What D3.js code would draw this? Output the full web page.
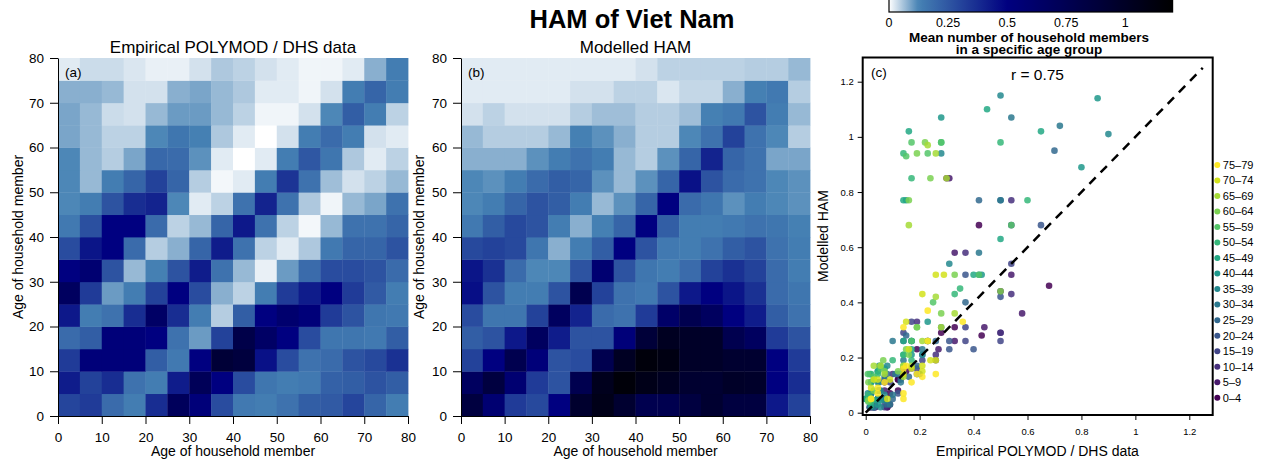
<!DOCTYPE html>
<html>
<head>
<meta charset="utf-8">
<script src="https://cdn.jsdelivr.net/npm/d3@7"></script>
<style>
  html, body { margin: 0; padding: 0; background: #ffffff; }
  svg { display: block; }
</style>
</head>
<body>
<svg id="chart" width="1265" height="465"></svg>
<script>
// ---------------- DATA ----------------
const ageGroups = ["0–4","5–9","10–14","15–19","20–24","25–29","30–34","35–39",
                   "40–44","45–49","50–54","55–59","60–64","65–69","70–74","75–79"];
const ageTicks = [0, 10, 20, 30, 40, 50, 60, 70, 80];
const scatterTicks = [0, 0.2, 0.4, 0.6, 0.8, 1, 1.2];
const colorbarTicks = [0, 0.25, 0.5, 0.75, 1];
const mainTitle = "HAM of Viet Nam";
const panelTitles = ["Empirical POLYMOD / DHS data", "Modelled HAM"];
const corrLabel = "r = 0.75";

// rows: age of household member (y) 0–4 ... 75–79 ; columns: age (x) 0–4 ... 75–79
const empirical = [
  [0.30,0.33,0.19,0.14,0.37,0.70,0.54,0.28,0.15,0.14,0.17,0.23,0.24,0.30,0.21,0.14],
  [0.42,0.31,0.37,0.17,0.14,0.42,0.72,0.50,0.28,0.16,0.14,0.15,0.22,0.23,0.26,0.23],
  [0.33,0.54,0.54,0.54,0.23,0.15,0.50,0.90,0.86,0.45,0.28,0.17,0.19,0.26,0.29,0.36],
  [0.19,0.23,0.54,0.54,0.50,0.17,0.10,0.31,0.80,0.65,0.50,0.28,0.16,0.16,0.15,0.23],
  [0.43,0.14,0.17,0.37,0.65,0.37,0.14,0.05,0.23,0.50,0.60,0.54,0.33,0.26,0.16,0.15],
  [0.68,0.33,0.10,0.14,0.31,0.50,0.28,0.08,0.045,0.14,0.33,0.42,0.50,0.33,0.24,0.14],
  [0.50,0.58,0.26,0.07,0.13,0.26,0.42,0.17,0.07,0.015,0.10,0.19,0.28,0.28,0.26,0.19],
  [0.28,0.44,0.50,0.19,0.05,0.08,0.21,0.42,0.17,0.045,0.02,0.055,0.15,0.21,0.21,0.26],
  [0.15,0.27,0.50,0.50,0.19,0.045,0.07,0.21,0.43,0.17,0.045,0.008,0.07,0.17,0.17,0.21],
  [0.12,0.14,0.26,0.37,0.40,0.12,0.02,0.045,0.17,0.40,0.17,0.055,0.01,0.07,0.09,0.17],
  [0.12,0.07,0.14,0.21,0.31,0.21,0.05,0.008,0.02,0.14,0.35,0.17,0.065,0.03,0.045,0.07],
  [0.12,0.07,0.05,0.09,0.20,0.19,0.11,0.02,0.0,0.02,0.14,0.25,0.16,0.055,0.02,0.045],
  [0.09,0.07,0.045,0.045,0.12,0.16,0.13,0.055,0.02,0.0,0.03,0.14,0.19,0.14,0.03,0.02],
  [0.09,0.07,0.035,0.03,0.07,0.10,0.10,0.07,0.045,0.01,0.01,0.03,0.12,0.23,0.14,0.045],
  [0.08,0.08,0.07,0.03,0.03,0.08,0.09,0.07,0.055,0.02,0.02,0.01,0.03,0.14,0.21,0.14],
  [0.02,0.035,0.035,0.025,0.015,0.015,0.03,0.055,0.045,0.03,0.02,0.01,0.01,0.02,0.08,0.14]
];

const modelled = [
  [0.85,0.58,0.33,0.29,0.50,0.95,1.07,0.94,0.77,0.77,0.85,0.94,0.85,0.85,0.43,0.31],
  [0.68,0.85,0.58,0.33,0.26,0.77,1.04,1.15,1.07,1.02,0.94,0.93,0.98,0.97,0.50,0.37],
  [0.31,0.50,0.77,0.54,0.26,0.28,0.77,1.01,1.14,1.10,0.98,0.98,0.94,0.94,0.50,0.33],
  [0.23,0.26,0.43,0.68,0.42,0.26,0.26,0.54,0.89,1.02,0.98,0.98,0.77,0.68,0.33,0.26],
  [0.28,0.16,0.16,0.31,0.68,0.40,0.19,0.17,0.33,0.63,0.77,0.68,0.50,0.42,0.23,0.17],
  [0.46,0.26,0.14,0.14,0.26,0.77,0.31,0.17,0.15,0.26,0.43,0.50,0.44,0.36,0.19,0.16],
  [0.44,0.36,0.19,0.12,0.12,0.26,0.58,0.26,0.16,0.14,0.19,0.31,0.36,0.31,0.19,0.14],
  [0.29,0.31,0.29,0.16,0.08,0.14,0.23,0.50,0.26,0.15,0.14,0.17,0.23,0.26,0.17,0.14],
  [0.15,0.23,0.29,0.26,0.14,0.08,0.13,0.21,0.50,0.23,0.14,0.14,0.15,0.17,0.16,0.13],
  [0.12,0.14,0.21,0.26,0.23,0.14,0.07,0.11,0.21,0.50,0.19,0.16,0.11,0.14,0.12,0.11],
  [0.12,0.11,0.14,0.19,0.23,0.21,0.11,0.07,0.11,0.21,0.45,0.26,0.19,0.17,0.12,0.11],
  [0.08,0.08,0.08,0.11,0.14,0.17,0.14,0.07,0.05,0.11,0.21,0.40,0.21,0.17,0.09,0.09],
  [0.07,0.05,0.05,0.05,0.07,0.13,0.11,0.08,0.05,0.05,0.12,0.17,0.31,0.17,0.12,0.05],
  [0.03,0.045,0.03,0.03,0.03,0.05,0.065,0.065,0.05,0.05,0.065,0.13,0.15,0.26,0.14,0.07],
  [0.02,0.02,0.02,0.02,0.02,0.03,0.03,0.045,0.045,0.025,0.04,0.04,0.08,0.13,0.15,0.05],
  [0.02,0.02,0.02,0.02,0.02,0.02,0.02,0.02,0.03,0.045,0.045,0.045,0.045,0.05,0.05,0.07]
];

// ---------------- DRAWING ----------------
const FONT = '"Liberation Sans", Arial, Helvetica, sans-serif';
const svg = d3.select("#chart").attr("font-family", FONT);

const heatColor = d3.scaleLinear()
  .domain([0, 0.125, 0.5, 1.2])
  .range(["#ffffff", "#4682b4", "#000080", "#000000"])
  .clamp(true);

const binWidth = 5;

function drawHeatmap(matrix, x0, x1, title, letter, ylabX) {
  const x = d3.scaleLinear().domain([0, 80]).range([x0, x1]);
  const y = d3.scaleLinear().domain([0, 80]).range([416, 58]);
  const g = svg.append("g");
  const cells = [];
  matrix.forEach((row, i) => row.forEach((v, j) => cells.push({ i, j, v })));
  g.append("g").selectAll("rect").data(cells).join("rect")
    .attr("x", d => x(d.j * binWidth))
    .attr("y", d => y((d.i + 1) * binWidth))
    .attr("width", d => x((d.j + 1) * binWidth) - x(d.j * binWidth) + 0.4)
    .attr("height", d => y(d.i * binWidth) - y((d.i + 1) * binWidth) + 0.4)
    .attr("fill", d => heatColor(d.v));

  const ax = g.append("g").attr("transform", "translate(0,416)")
    .call(d3.axisBottom(x).tickValues(ageTicks).tickSize(8).tickSizeOuter(0).tickPadding(8));
  const ay = g.append("g").attr("transform", `translate(${x0},0)`)
    .call(d3.axisLeft(y).tickValues(ageTicks).tickSize(8).tickSizeOuter(0).tickPadding(6));
  [ax, ay].forEach(a => {
    a.attr("font-family", FONT).attr("font-size", 13.5);
    a.selectAll("text").attr("fill", "#000");
    a.selectAll("line").attr("stroke", "#000");
    a.select(".domain").attr("stroke", "#000");
  });

  g.append("text").attr("x", (x0 + x1) / 2).attr("y", 53).attr("text-anchor", "middle")
    .attr("font-size", 17).text(title);
  g.append("text").attr("x", x0 + 7).attr("y", 76.5).attr("font-size", 13.5).text(letter);
  g.append("text").attr("x", (x0 + x1) / 2).attr("y", 456).attr("text-anchor", "middle")
    .attr("font-size", 14).text("Age of household member");
  g.append("text").attr("transform", `translate(${ylabX},237) rotate(-90)`)
    .attr("text-anchor", "middle").attr("font-size", 14).text("Age of household member");
}

drawHeatmap(empirical, 58, 408, panelTitles[0], "(a)", 22.5);
drawHeatmap(modelled, 461, 810, panelTitles[1], "(b)", 423.5);

// main title
svg.append("text").attr("x", 632).attr("y", 28).attr("text-anchor", "middle")
  .attr("font-size", 25.5).attr("font-weight", "bold").text(mainTitle);

// ---------------- COLOR BAR ----------------
const cb = d3.scaleLinear().domain([0, 1.2]).range([889, 1172.6]);
const defs = svg.append("defs");
const grad = defs.append("linearGradient").attr("id", "cbgrad")
  .attr("x1", "0%").attr("x2", "100%").attr("y1", "0%").attr("y2", "0%");
d3.range(0, 1.2001, 0.02).forEach(v => {
  grad.append("stop").attr("offset", (v / 1.2 * 100) + "%").attr("stop-color", heatColor(v));
});
svg.append("rect").attr("x", cb(0)).attr("y", -10).attr("width", cb(1.2) - cb(0)).attr("height", 22)
  .attr("fill", "url(#cbgrad)").attr("stroke", "#000").attr("stroke-width", 1.2);
svg.append("g").selectAll("text").data(colorbarTicks).join("text")
  .attr("x", d => cb(d)).attr("y", 27).attr("text-anchor", "middle")
  .attr("font-size", 12.5).text(d => d3.format("")(d));
svg.append("text").attr("x", 1029).attr("y", 41.5).attr("text-anchor", "middle")
  .attr("font-size", 13.5).attr("font-weight", "bold").text("Mean number of household members");
svg.append("text").attr("x", 1029).attr("y", 54).attr("text-anchor", "middle")
  .attr("font-size", 13.5).attr("font-weight", "bold").text("in a specific age group");

// ---------------- SCATTER ----------------
const sx = d3.scaleLinear().domain([0, 1.2]).range([865.7, 1189.3]);
const sy = d3.scaleLinear().domain([0, 1.2]).range([412.7, 81.7]);
const ageColor = d3.scaleOrdinal().domain(ageGroups)
  .range(ageGroups.map((a, i) => d3.interpolateViridis(i / (ageGroups.length - 1))));

const sg = svg.append("g");
const pts = [];
for (let j = 0; j < 16; j++) {
  for (let i = 0; i < 16; i++) {
    pts.push({ ex: empirical[i][j], mo: modelled[i][j], grp: ageGroups[j] });
  }
}
sg.append("g").selectAll("circle").data(pts).join("circle")
  .attr("cx", d => sx(d.ex)).attr("cy", d => sy(d.mo)).attr("r", 3.3)
  .attr("fill", d => ageColor(d.grp)).attr("fill-opacity", 0.85);

sg.append("line").attr("x1", sx(0)).attr("y1", sy(0)).attr("x2", sx(1.25)).attr("y2", sy(1.25))
  .attr("stroke", "#000").attr("stroke-width", 2.5).attr("stroke-dasharray", "9,7");

// box
sg.append("rect").attr("x", 862.7).attr("y", 57.5).attr("width", 350).attr("height", 357.5)
  .attr("fill", "none").attr("stroke", "#000").attr("stroke-width", 2);

const sax = sg.append("g").attr("transform", "translate(0,415)")
  .call(d3.axisBottom(sx).tickValues(scatterTicks).tickSize(5).tickSizeOuter(0).tickPadding(8)
    .tickFormat(d3.format("")));
const say = sg.append("g").attr("transform", "translate(862.7,0)")
  .call(d3.axisLeft(sy).tickValues(scatterTicks).tickSize(5).tickSizeOuter(0).tickPadding(4)
    .tickFormat(d3.format("")));
[sax, say].forEach(a => {
  a.attr("font-family", FONT).attr("font-size", 9.5);
  a.select(".domain").remove();
  a.selectAll("line").attr("stroke", "#000");
  a.selectAll("text").attr("fill", "#000");
});

sg.append("text").attr("x", 871).attr("y", 76.5).attr("font-size", 13.5).text("(c)");
sg.append("text").attr("x", 1037.5).attr("y", 79.5).attr("text-anchor", "middle")
  .attr("font-size", 15.5).text(corrLabel);
sg.append("text").attr("x", 1037.5).attr("y", 456).attr("text-anchor", "middle")
  .attr("font-size", 14).text(panelTitles[0]);
sg.append("text").attr("transform", "translate(827.5,236) rotate(-90)").attr("text-anchor", "middle")
  .attr("font-size", 14).text(panelTitles[1]);

// legend
const ly = d3.scalePoint().domain(ageGroups.slice().reverse()).range([165, 397.7]);
const lg = sg.append("g").selectAll("g").data(ageGroups).join("g")
  .attr("transform", d => `translate(1217.3,${ly(d)})`);
lg.append("circle").attr("r", 3).attr("fill", d => ageColor(d));
lg.append("text").attr("x", 5.5).attr("dy", "0.35em").attr("font-size", 11).text(d => d);
</script>
</body>
</html>
